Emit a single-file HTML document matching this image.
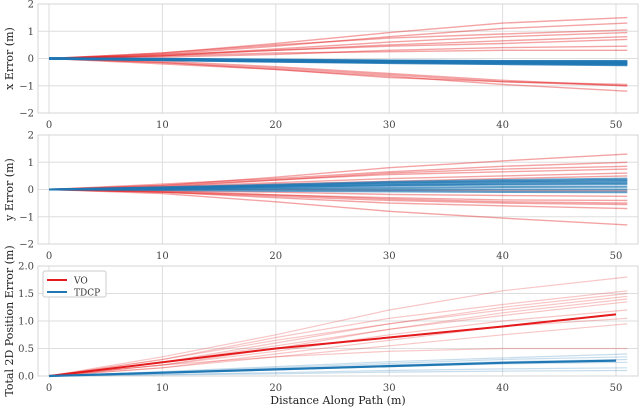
<!DOCTYPE html>
<html><head><meta charset="utf-8">
<style>
html,body{margin:0;padding:0;background:#fff;}
svg{display:block;font-family:"DejaVu Serif","Liberation Serif",serif;}
</style></head>
<body>
<svg id="chart" width="640" height="408" viewBox="0 0 640 408" xmlns="http://www.w3.org/2000/svg"></svg>
<script>
const distances=[0,10,20,30,40,51];
const xTicks=[0,10,20,30,40,50];
const xRed=[[0,0.2,0.55,0.95,1.3,1.5],[0,0.15,0.45,0.8,1.1,1.3],[0,0.2,0.5,0.75,0.9,1.05],[0,0.1,0.35,0.6,0.8,0.95],[0,0.1,0.3,0.5,0.65,0.8],[0,0.15,0.3,0.45,0.55,0.7],[0,0.05,0.15,0.3,0.4,0.45],[0,0.1,0.2,0.25,0.3,0.3],[0,-0.15,-0.35,-0.6,-0.85,-0.95],[0,-0.2,-0.4,-0.7,-0.85,-1.0],[0,-0.15,-0.4,-0.65,-0.95,-1.2],[0,-0.1,-0.3,-0.55,-0.8,-1.0]];
const xBlue=[[0,-0.03,-0.06,-0.09,-0.11,-0.12],[0,-0.04,-0.08,-0.12,-0.15,-0.17],[0,-0.05,-0.1,-0.14,-0.18,-0.21],[0,-0.05,-0.11,-0.16,-0.2,-0.24],[0,-0.03,-0.07,-0.1,-0.13,-0.15],[0,-0.04,-0.09,-0.13,-0.16,-0.19],[0,-0.02,-0.05,-0.08,-0.1,-0.1]];
const yRed=[[0,0.15,0.45,0.8,1.05,1.3],[0,0.2,0.4,0.65,0.85,1.0],[0,0.1,0.35,0.6,0.75,0.85],[0,0.15,0.35,0.55,0.65,0.75],[0,0.1,0.25,0.4,0.5,0.6],[0,0.05,0.2,0.3,0.4,0.5],[0,0.02,0.0,-0.03,-0.04,-0.05],[0,-0.05,-0.1,-0.18,-0.22,-0.25],[0,-0.1,-0.2,-0.3,-0.38,-0.4],[0,-0.05,-0.2,-0.35,-0.45,-0.5],[0,-0.1,-0.25,-0.4,-0.5,-0.55],[0,-0.1,-0.3,-0.5,-0.6,-0.7],[0,-0.15,-0.45,-0.8,-1.05,-1.3]];
const yBlue=[[0,0.08,0.18,0.28,0.35,0.4],[0,0.06,0.14,0.22,0.27,0.3],[0,0.05,0.1,0.15,0.18,0.2],[0,0.02,0.05,0.07,0.09,0.1],[0,0.0,0.01,0.0,0.0,0.0],[0,-0.02,-0.05,-0.07,-0.09,-0.1],[0,0.07,0.15,0.25,0.3,0.35],[0,0.04,0.1,0.16,0.21,0.25]];
const tRed=[[0,0.35,0.75,1.2,1.55,1.8],[0,0.3,0.7,1.05,1.3,1.55],[0,0.25,0.6,0.95,1.25,1.5],[0,0.3,0.65,0.95,1.2,1.45],[0,0.2,0.5,0.85,1.15,1.4],[0,0.25,0.55,0.85,1.1,1.35],[0,0.2,0.45,0.75,1.0,1.2],[0,0.15,0.4,0.65,0.9,1.05],[0,0.15,0.35,0.55,0.75,0.95],[0,0.2,0.35,0.45,0.5,0.5]];
const tRedMean=[0,0.25,0.5,0.7,0.9,1.12];
const tBlue=[[0,0.08,0.17,0.26,0.33,0.4],[0,0.07,0.15,0.23,0.3,0.35],[0,0.06,0.13,0.2,0.26,0.3],[0,0.05,0.11,0.17,0.22,0.25],[0,0.03,0.06,0.1,0.13,0.15],[0,0.02,0.04,0.07,0.09,0.1]];
const tBlueMean=[0,0.06,0.12,0.18,0.24,0.28];
const meanDist=[0,10,20,30,40,50];

const svg=document.getElementById('chart');
const NS='http://www.w3.org/2000/svg';
const L=38,R=638;
function X(d){return 49+d*11.34;}
function mk(tag,attrs,parent){const e=document.createElementNS(NS,tag);for(const k in attrs)e.setAttribute(k,attrs[k]);(parent||svg).appendChild(e);return e;}
function panel(top,bot,ymin,ymax,yticks,fmt,label,name){
  const g=mk('g',{});
  
  
  const Y=v=>bot-(v-ymin)/(ymax-ymin)*(bot-top);
  yticks.forEach(t=>{
    const l=mk('line',{x1:L,x2:R,y1:Y(t),y2:Y(t),stroke:'#dedede','stroke-width':1},g);
    
    const tx=mk('text',{x:L-4,y:Y(t)+3.5,'text-anchor':'end','font-size':10,fill:'#444'},g);
    tx.textContent=fmt(t);
    
  });
  xTicks.forEach(t=>{
    const l=mk('line',{x1:X(t),x2:X(t),y1:top,y2:bot,stroke:'#dedede','stroke-width':1},g);
    
    const tx=mk('text',{x:X(t),y:bot+15,'text-anchor':'middle','font-size':10,fill:'#444'},g);
    tx.textContent=t;
    
  });
  const fr=mk('rect',{x:L,y:top,width:R-L,height:bot-top,fill:'none',stroke:'#d4d4d4','stroke-width':1},g);
  
  const cy=(top+bot)/2;
  const yl=mk('text',{x:13,y:cy,'text-anchor':'middle','font-size':11,fill:'#222',transform:`rotate(-90 13 ${cy})`},g);
  yl.textContent=label;
  
  return {g,Y};
}
function line(p,xs,vals,color,w,op,name){
  const d=vals.map((v,i)=>(i?'L':'M')+X(xs[i]).toFixed(1)+' '+p.Y(v).toFixed(1)).join(' ');
  const e=mk('path',{d,fill:'none',stroke:color,'stroke-width':w,'stroke-opacity':op,'stroke-linejoin':'round'},p.g);
  
  
}
const RED='#e41a1c',BLUE='#1f77b4';
const p1=panel(4,113,-2,2,[-2,-1,0,1,2],t=>t<0?'\u2212'+(-t):String(t),'x Error (m)','x-error-panel');
xRed.forEach(s=>line(p1,distances,s,RED,1.4,0.4,'vo-x-error-line'));
xBlue.forEach(s=>line(p1,distances,s,BLUE,2.5,0.8,'tdcp-x-error-line'));
const p2=panel(135,244,-2,2,[-2,-1,0,1,2],t=>t<0?'\u2212'+(-t):String(t),'y Error (m)','y-error-panel');
yRed.forEach(s=>line(p2,distances,s,RED,1.4,0.4,'vo-y-error-line'));
yBlue.forEach(s=>line(p2,distances,s,BLUE,2,0.7,'tdcp-y-error-line'));
const p3=panel(266,376,0,2,[0,0.5,1,1.5,2],t=>t.toFixed(1),'Total 2D Position Error (m)','total-error-panel');
tRed.forEach(s=>line(p3,distances,s,RED,1.2,0.25,'vo-total-error-line'));
tBlue.forEach(s=>line(p3,distances,s,BLUE,1.2,0.25,'tdcp-total-error-line'));
line(p3,meanDist,tRedMean,RED,2,1,'vo-mean-line');
line(p3,meanDist,tBlueMean,BLUE,2.2,1,'tdcp-mean-line');
const xl=mk('text',{x:338,y:404,'text-anchor':'middle','font-size':11,fill:'#222'});
xl.textContent='Distance Along Path (m)';

const lg=mk('g',{});

mk('rect',{x:43,y:271,width:63,height:26,fill:'#fff',stroke:'#ccc',rx:2},lg);
mk('line',{x1:47,x2:67,y1:280,y2:280,stroke:RED,'stroke-width':2},lg);
mk('line',{x1:47,x2:67,y1:292,y2:292,stroke:BLUE,'stroke-width':2},lg);
const t1=mk('text',{x:74,y:283.5,'font-size':9,fill:'#333'},lg);t1.textContent='VO';

const t2=mk('text',{x:74,y:295.5,'font-size':9,fill:'#333'},lg);t2.textContent='TDCP';

</script>
</body></html>
